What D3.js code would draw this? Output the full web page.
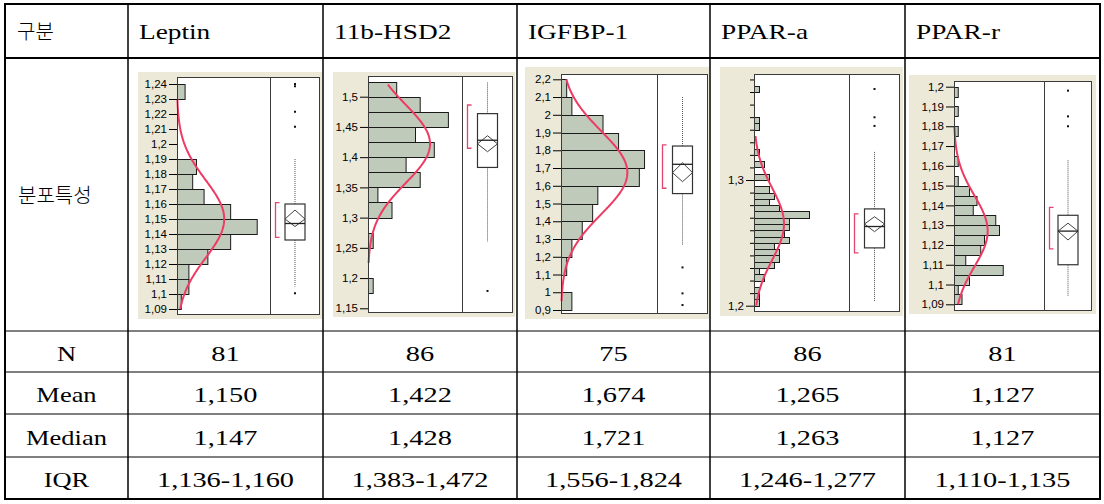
<!DOCTYPE html>
<html><head><meta charset="utf-8">
<script src="https://cdn.jsdelivr.net/npm/d3@7"></script>
<style>body{margin:0;background:#fff}svg{display:block}</style>
</head><body>
<svg id="c" width="1104" height="504"></svg>
<script>
// ---------- table data ----------
const columns = ["Leptin","11b-HSD2","IGFBP-1","PPAR-a","PPAR-r"];
const headerLabel = "구분";
const chartRowLabel = "분포특성";
const rowLabels = ["N","Mean","Median","IQR"];
const nValues = ["81","86","75","86","81"];
const meanValues = ["1,150","1,422","1,674","1,265","1,127"];
const medianValues = ["1,147","1,428","1,721","1,263","1,127"];
const iqrValues = ["1,136-1,160","1,383-1,472","1,556-1,824","1,246-1,277","1,110-1,135"];

// ---------- histogram data (counts, lowest bin first) ----------
const leptinCounts = [1,3,3,8,14,21,14,7,4,5,0,0,0,0,2];
const hsd2Counts = [1,0,0,1,0,5,2,11,8,14,10,17,11,6];
const igfbpCounts = [2,0,1,2,4,6,7,15,16,11,8,2,1];
const pparaCounts = [1,1,1,0,2,1,4,5,5,4,7,6,7,7,11,5,3,4,3,0,3,0,2,0,1,0,0,0,1,1,0,0,0,0,1];
const pparrCounts = [2,1,4,13,3,7,8,12,11,5,6,4,1,0,1,0,0,1,0,1,0,1];
const binStarts = [1.09,1.175,0.9,1.2,1.09];
const binWidths = [0.01,0.025,0.1,0.005,0.005];

// ---------- fitted normal ----------
const fitMeans = [1.150,1.422,1.674,1.265,1.127];
const fitSDs = [0.026,0.065,0.234,0.0286,0.018];
const curveRanges = [[1.09,1.23],[1.225,1.52],[0.95,2.2],[1.2,1.335],[1.09,1.18]];

// ---------- box plots: [whiskerLo, q1, median, q3, whiskerHi] ----------
const boxStats = [
  [1.105,1.136,1.147,1.160,1.190],
  [1.260,1.383,1.428,1.472,1.525],
  [1.266,1.556,1.721,1.824,2.100],
  [1.203,1.246,1.263,1.277,1.3225],
  [1.094,1.110,1.127,1.135,1.163]
];
const meanCI = [[1.145,1.156],[1.409,1.4355],[1.623,1.730],[1.2589,1.2708],[1.1225,1.131]];
const shortestHalf = [[1.1378,1.1609],[1.4147,1.4863],[1.586,1.830],[1.242,1.273],[1.118,1.139]];
const outliers = [[1.2400,1.2385,1.2215,1.2115,1.1005],[1.1787],[1.14,0.9937,0.928],[1.3724,1.3499,1.343],[1.198,1.185,1.180]];

// ---------- axis ticks ----------
const leptinTicks = [1.09,1.1,1.11,1.12,1.13,1.14,1.15,1.16,1.17,1.18,1.19,1.2,1.21,1.22,1.23,1.24];
const hsd2Ticks = [1.15,1.2,1.25,1.3,1.35,1.4,1.45,1.5];
const igfbpTicks = [0.9,1,1.1,1.2,1.3,1.4,1.5,1.6,1.7,1.8,1.9,2,2.1,2.2];
const pparaTicks = [1.2,1.21,1.22,1.23,1.24,1.25,1.26,1.27,1.28,1.29,1.3,1.31,1.32,1.33,1.34,1.35,1.36,1.37,1.38];
const pparaLabeledTicks = [1.2,1.3];
const pparrTicks = [1.09,1.1,1.11,1.12,1.13,1.14,1.15,1.16,1.17,1.18,1.19,1.2];

// ---------- layout (pixels) ----------
const colX = [5,128,323,517,710,905,1100];
const rowY = [4,58,331,372,414,457,499];
const panels = [
  {counts:leptinCounts, ticks:leptinTicks, labeled:leptinTicks, bg:[138,72,322,319], box:[177,270,320,77,315], anchor:[1.09,309,1.24,84], xMax:24.5},
  {counts:hsd2Counts, ticks:hsd2Ticks, labeled:hsd2Ticks, bg:[333,72,515,317], box:[368,462,513,76,313], anchor:[1.15,308.3,1.5,96.7], xMax:20},
  {counts:igfbpCounts, ticks:igfbpTicks, labeled:igfbpTicks, bg:[525,67,709,319], box:[561,657,708,74,314], anchor:[0.9,310,2.2,79.3], xMax:18.5},
  {counts:pparaCounts, ticks:pparaTicks, labeled:pparaLabeledTicks, bg:[720,67,903,316], box:[754,849,900,74,312], anchor:[1.2,305.7,1.3,180], xMax:19},
  {counts:pparrCounts, ticks:pparrTicks, labeled:pparrTicks, bg:[909,75,1096,314], box:[954,1044,1092,81,311], anchor:[1.09,304.3,1.2,86.7], xMax:24}
];

const svg = d3.select("#c");
const loc = d3.formatLocale({decimal:",", thousands:".", grouping:[3], currency:["",""]});
const tickFmt = loc.format("~g");

panels.forEach((p, i) => {
  const [bx0, by0, bx1, by1] = p.bg;
  const [x0, xd, x1, y0, y1] = p.box;
  const g = svg.append("g");
  g.append("rect").attr("x", bx0).attr("y", by0).attr("width", bx1 - bx0).attr("height", by1 - by0).attr("fill", "#ECE9D8");
  g.append("rect").attr("x", x0).attr("y", y0).attr("width", x1 - x0).attr("height", y1 - y0).attr("fill", "#fff");

  const y = d3.scaleLinear().domain([p.anchor[0], p.anchor[2]]).range([p.anchor[1], p.anchor[3]]);
  const x = d3.scaleLinear().domain([0, p.xMax]).range([x0, xd]);
  const bw = binWidths[i], b0 = binStarts[i];

  g.append("g").selectAll("rect").data(p.counts.map((c, k) => ({c, lo: b0 + k * bw, hi: b0 + (k + 1) * bw})).filter(d => d.c > 0))
    .join("rect")
    .attr("x", x0 + 0.5).attr("y", d => Math.round(y(d.hi)) + 0.5)
    .attr("width", d => x(d.c) - x0).attr("height", d => Math.round(y(d.lo)) - Math.round(y(d.hi)))
    .attr("fill", "#BFCABB").attr("stroke", "#1a1a1a").attr("stroke-width", 1);

  const n = +nValues[i], mu = fitMeans[i], sd = fitSDs[i];
  const pdf = v => n * bw * Math.exp(-0.5 * ((v - mu) / sd) ** 2) / (sd * Math.sqrt(2 * Math.PI));
  const [c0, c1] = curveRanges[i];
  const pts = d3.range(0, 201).map(k => c0 + (c1 - c0) * k / 200);
  g.append("path").datum(pts)
    .attr("d", d3.line().x(v => x(pdf(v))).y(v => y(v)))
    .attr("fill", "none").attr("stroke", "#EE3B62").attr("stroke-width", 2);

  const cx = (xd + x1) / 2, hw = 10;
  const [wl, q1, md, q3, wh] = boxStats[i];
  g.append("line").attr("x1", cx).attr("x2", cx).attr("y1", y(q3)).attr("y2", y(wh)).attr("stroke", "#555").attr("stroke-dasharray", "1,1");
  g.append("line").attr("x1", cx).attr("x2", cx).attr("y1", y(q1)).attr("y2", y(wl)).attr("stroke", "#555").attr("stroke-dasharray", "1,1");
  g.append("rect").attr("x", cx - hw).attr("y", y(q3)).attr("width", 2 * hw).attr("height", y(q1) - y(q3))
    .attr("fill", "#fff").attr("stroke", "#333").attr("stroke-width", 1.2);
  const [ciLo, ciHi] = meanCI[i];
  g.append("path").attr("d", `M${cx - hw},${y(mu)}L${cx},${y(ciHi)}L${cx + hw},${y(mu)}L${cx},${y(ciLo)}Z`)
    .attr("fill", "none").attr("stroke", "#444").attr("stroke-width", 1);
  g.append("line").attr("x1", cx - hw).attr("x2", cx + hw).attr("y1", y(md)).attr("y2", y(md)).attr("stroke", "#222").attr("stroke-width", 1.3);
  const [sh0, sh1] = shortestHalf[i];
  const bxk = xd + 5.5;
  g.append("path").attr("d", `M${bxk + 4},${y(sh1)}H${bxk}V${y(sh0)}H${bxk + 4}`)
    .attr("fill", "none").attr("stroke", "#E2456E").attr("stroke-width", 1.3);
  g.append("g").selectAll("rect").data(outliers[i]).join("rect")
    .attr("x", cx - 1).attr("y", v => y(v) - 1).attr("width", 2).attr("height", 2).attr("fill", "#111");

  g.append("rect").attr("x", x0 + 0.5).attr("y", y0 + 0.5).attr("width", x1 - x0 - 1).attr("height", y1 - y0 - 1)
    .attr("fill", "none").attr("stroke", "#3a3a3a").attr("stroke-width", 1);
  g.append("line").attr("x1", xd + 0.5).attr("x2", xd + 0.5).attr("y1", y0).attr("y2", y1).attr("stroke", "#3a3a3a");

  const minor = p.ticks.filter(t => !p.labeled.includes(t));
  if (minor.length) {
    const am = g.append("g").attr("transform", `translate(${x0},0)`)
      .call(d3.axisLeft(y).tickValues(minor).tickSize(4).tickFormat(""));
    am.select(".domain").remove();
    am.selectAll("line").attr("stroke", "#000");
  }
  const ax = g.append("g").attr("transform", `translate(${x0},0)`)
    .call(d3.axisLeft(y).tickValues(p.labeled).tickSize(8).tickPadding(2).tickFormat(tickFmt));
  ax.select(".domain").remove();
  ax.selectAll("line").attr("stroke", "#000");
  ax.selectAll("text").attr("font-family", "Liberation Sans, Arial, sans-serif").attr("font-size", 11.5).attr("fill", "#000");
});

// ---------- table grid ----------
const grid = svg.append("g").attr("stroke", "#000");
rowY.forEach((yy, k) => {
  const w = (k === 0 || k === rowY.length - 1 || k === 1) ? 2 : 1;
  grid.append("line").attr("x1", colX[0] - 1).attr("x2", colX[6] + 1).attr("y1", yy).attr("y2", yy).attr("stroke-width", w);
});
colX.forEach((xx, k) => {
  const w = (k === 0 || k === colX.length - 1) ? 2 : 1.5;
  grid.append("line").attr("x1", xx).attr("x2", xx).attr("y1", rowY[0]).attr("y2", rowY[6]).attr("stroke-width", w);
});

// ---------- table text ----------
function stretch(sel, k) {
  sel.each(function () {
    const w = this.getComputedTextLength();
    d3.select(this).attr("textLength", w * k).attr("lengthAdjust", "spacingAndGlyphs");
  });
}
const serif = "Liberation Serif, Times New Roman, serif";
const kr = "Noto Sans CJK KR, sans-serif";

svg.append("text").attr("x", colX[0] + 12).attr("y", 39).attr("font-family", kr).attr("font-size", 20).attr("font-weight", 300).attr("fill", "#000").text(headerLabel);
svg.append("text").attr("x", colX[0] + 13).attr("y", (rowY[1] + rowY[2]) / 2 + 8).attr("font-family", kr).attr("font-size", 20).attr("font-weight", 300).attr("fill", "#000").text(chartRowLabel);

svg.append("g").selectAll("text").data(columns).join("text")
  .attr("x", (d, k) => colX[k + 1] + 11).attr("y", 39)
  .attr("font-family", serif).attr("font-size", 21).attr("fill", "#000")
  .text(d => d).call(stretch, 1.3);

const bodyRows = [nValues, meanValues, medianValues, iqrValues];
rowLabels.forEach((lab, r) => {
  const cy = (rowY[r + 2] + rowY[r + 3]) / 2 + 9;
  svg.append("text").attr("x", (colX[0] + colX[1]) / 2).attr("y", cy).attr("text-anchor", "middle")
    .attr("font-family", serif).attr("font-size", 21).attr("fill", "#000").text(lab).call(stretch, 1.26);
  svg.append("g").selectAll("text").data(bodyRows[r]).join("text")
    .attr("x", (d, k) => (colX[k + 1] + colX[k + 2]) / 2).attr("y", cy).attr("text-anchor", "middle")
    .attr("font-family", serif).attr("font-size", 21).attr("fill", "#000")
    .text(d => d).call(stretch, 1.35);
});
</script>
</body></html>
